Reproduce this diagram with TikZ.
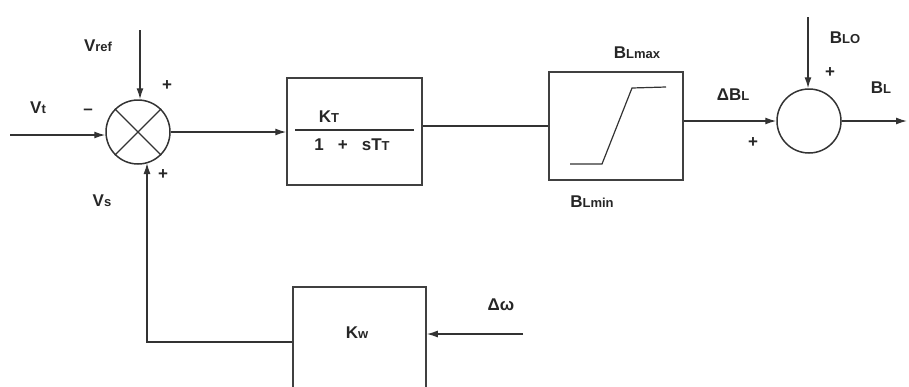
\documentclass[tikz,border=0pt]{standalone}
\usepackage{fontspec}
\setmainfont{Liberation Sans}
\usetikzlibrary{arrows.meta}
\newcommand\sm[1]{{\fontsize{13}{14}\selectfont #1}}
\begin{document}
\begin{tikzpicture}[x=1pt,y=-1pt,
  ln/.style={draw=black!80, line width=1.4pt},
  arr/.style={ln, -{Latex[length=11pt,width=7pt]}},
  blk/.style={draw=black!75, line width=1.5pt, rectangle, inner sep=0pt},
  jn/.style={draw=black!80, line width=1.5pt, circle, minimum size=64pt, inner sep=0pt},
  lab/.style={font=\fontsize{17}{19}\selectfont\bfseries, text=black!85, inner sep=1pt}]
\useasboundingbox (0,0) rectangle (909,386);
\clip (0,0) rectangle (909,386);

% blocks
\node[jn] (sum) at (138,132) {};
\draw[ln] (sum.north west) -- (sum.south east) (sum.north east) -- (sum.south west);
\node[blk, minimum width=135pt, minimum height=107pt] (gT) at (354.5,131.5) {};
\node[lab] (num) at (329,117) {K\sm{T}};
\node[lab] (den) at (352,145) {1\hspace{14pt}+\hspace{14pt}sT\sm{T}};
\draw[ln] (295,130) -- (414,130);
\node[blk, minimum width=134pt, minimum height=108pt] (lim) at (616,126) {};
\draw[ln, line width=1.2pt] (570,164) -- (602,164) -- (632,88) -- (666,87);
\node[jn] (sum2) at (809,121) {};
\node[blk, minimum width=133pt, minimum height=130pt, anchor=north] (kw) at (359.5,286) {};
\node[lab] (kwt) at (357,333) {K\sm{w}};

% free ends
\coordinate (vtin) at (10,135);
\coordinate (vrefin) at (140,30);
\coordinate (bloin) at (808,17);
\coordinate (blout) at (907,118);
\coordinate (dwin) at (523,334);
\coordinate (fb) at (147,342);

% connectors
\draw[arr] (vtin) -- (vtin -| sum.west);
\draw[arr] (vrefin) -- (vrefin |- sum.north);
\draw[arr] (sum.east) -- (sum.east -| gT.west);
\draw[ln] (gT.east |- lim.west) -- (lim.west);
\draw[arr] (lim.east |- sum2.west) -- (sum2.west);
\draw[arr] (bloin) -- (bloin |- sum2.north);
\draw[arr] (sum2.east) -- (sum2.east -| blout);
\draw[arr] (dwin) -- (dwin -| kw.east);
\draw[arr] (kw.west |- fb) -- (fb) -- (147,163);

% labels
\node[lab] (lvref) at (98,46) {V\sm{ref}};
\node[lab] (lvt) at (38,108) {V\sm{t}};
\node[lab] (lminus) at (88,112) {\textendash};
\node[lab] (lp1) at (167,86) {+};
\node[lab] (lp2) at (163,175) {+};
\node[lab] (lvs) at (102,201) {V\sm{s}};
\node[lab] (lbmax) at (637,53) {B\sm{Lmax}};
\node[lab] (lbmin) at (592,202) {B\sm{Lmin}};
\node[lab] (ldbl) at (733,95) {ΔB\sm{L}};
\node[lab] (lp3) at (753,143) {+};
\node[lab] (lblo) at (845,38) {B\sm{LO}};
\node[lab] (lp4) at (830,73) {+};
\node[lab] (lbl) at (881,88) {B\sm{L}};
\node[lab] (ldw) at (501,305) {Δω};
\end{tikzpicture}
\end{document}
